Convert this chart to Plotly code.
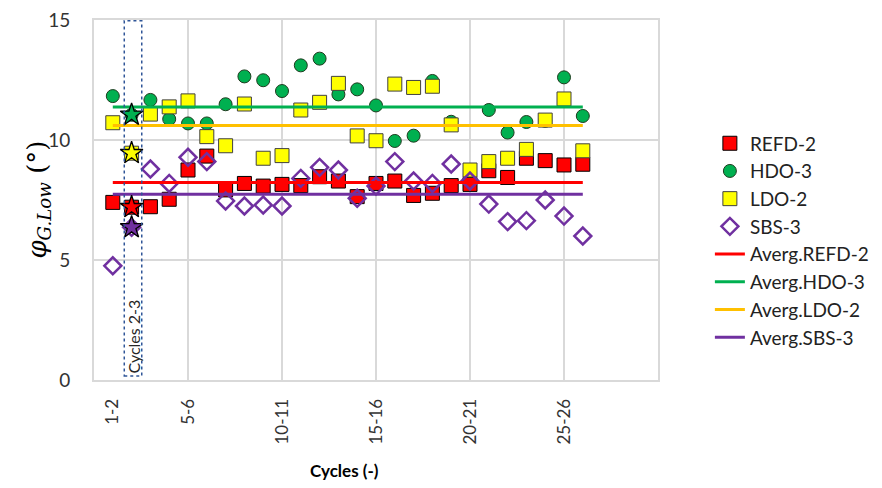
import numpy as np
import plotly.graph_objects as go

# Cycle index (1 = cycles 1-2, 2 = cycles 2-3, ...)
cycles = list(range(1, 27))

refd2 = [7.40, 7.20, 7.22, 7.53, 8.75, 9.33, 7.92, 8.19, 8.08, 8.15, 8.10, 8.47, 8.29,
         7.64, 8.19, 8.29, 7.69, 7.78, 8.10, 8.15, 8.72, 8.44, 9.24, 9.14, 8.96, 8.99]
hdo3 = [11.83, 11.05, 11.67, 10.87, 10.69, 10.69, 11.49, 12.65, 12.49, 12.04, 13.11, 13.39, 11.90,
        12.11, 11.44, 9.96, 10.18, 12.46, 10.76, 8.28, 11.25, 10.31, 10.75, 10.80, 12.61, 11.00]
ldo2 = [10.72, 9.45, 11.08, 11.38, 11.63, 10.14, 9.76, 11.50, 9.24, 9.35, 11.25, 11.57, 12.36,
        10.17, 9.97, 12.33, 12.19, 12.24, 10.63, 8.75, 9.10, 9.24, 9.61, 10.83, 11.71, 9.55]
sbs3 = [4.76, 6.36, 8.79, 8.19, 9.28, 9.10, 7.46, 7.25, 7.29, 7.25, 8.40, 8.86, 8.75,
        7.57, 8.08, 9.10, 8.29, 8.19, 9.00, 8.29, 7.33, 6.60, 6.64, 7.50, 6.83, 6.00]

tick_vals = [1, 5, 10, 15, 20, 25]
tick_text = ["1-2", "5-6", "10-11", "15-16", "20-21", "25-26"]
grid_x = [5, 10, 15, 20, 25]
highlight_cycle = 2  # cycles 2-3

RED, GREEN, YELLOW, PURPLE, ORANGE = "#FF0000", "#00B050", "#FFFF00", "#7030A0", "#FFC000"
FONT = "Lato, 'Open Sans', sans-serif"

fig = go.Figure()

# Scatter series (green drawn first so the others sit on top of it)
fig.add_trace(go.Scatter(x=cycles, y=hdo3, mode="markers", name="HDO-3", legendrank=2,
                         legendgroup="g2",
                         marker=dict(symbol="circle", size=13, color=GREEN,
                                     line=dict(color="#1F3B1F", width=1))))
fig.add_trace(go.Scatter(x=cycles, y=refd2, mode="markers", name="REFD-2", legendrank=1,
                         legendgroup="g1",
                         marker=dict(symbol="square", size=14, color=RED,
                                     line=dict(color="#000000", width=1))))
fig.add_trace(go.Scatter(x=cycles, y=ldo2, mode="markers", name="LDO-2", legendrank=3,
                         legendgroup="g3",
                         marker=dict(symbol="square", size=14, color=YELLOW,
                                     line=dict(color="#404040", width=1))))
fig.add_trace(go.Scatter(x=cycles, y=sbs3, mode="markers", name="SBS-3", legendrank=4,
                         legendgroup="g4",
                         marker=dict(symbol="diamond-open", size=13, color=PURPLE,
                                     line=dict(color=PURPLE, width=2.5))))

# Average lines
for rank, (label, vals, col) in enumerate([("Averg.REFD-2", refd2, RED),
                                           ("Averg.HDO-3", hdo3, GREEN),
                                           ("Averg.LDO-2", ldo2, ORANGE),
                                           ("Averg.SBS-3", sbs3, PURPLE)], start=5):
    m = float(np.mean(vals))
    fig.add_trace(go.Scatter(x=[cycles[0], cycles[-1]], y=[m, m], mode="lines", name=label,
                             legendrank=rank, legendgroup=f"g{rank}",
                             line=dict(color=col, width=3)))

# Stars highlighting cycles 2-3
i2 = cycles.index(highlight_cycle)
for vals, col in [(refd2, RED), (hdo3, GREEN), (ldo2, YELLOW), (sbs3, PURPLE)]:
    fig.add_trace(go.Scatter(x=[highlight_cycle], y=[vals[i2]], mode="markers", showlegend=False,
                             marker=dict(symbol="star", size=17, color=col,
                                         line=dict(color="#000000", width=1.3))))

# Vertical gridlines
for gx in grid_x:
    fig.add_shape(type="line", x0=gx, x1=gx, y0=0, y1=15, xref="x", yref="y",
                  line=dict(color="#D9D9D9", width=2), layer="below")

# Dotted box around cycles 2-3
fig.add_shape(type="rect", x0=highlight_cycle - 0.39, x1=highlight_cycle + 0.54, y0=0.17, y1=14.97,
              xref="x", yref="y", line=dict(color="#2F5597", width=1.5, dash="dot"),
              fillcolor="rgba(0,0,0,0)")
fig.add_annotation(x=highlight_cycle + 0.09, y=0.2, xref="x", yref="y", text="Cycles 2-3",
                   textangle=-90, showarrow=False, yanchor="bottom", xanchor="center",
                   font=dict(family=FONT, size=16, color="#262626"))

# Axis titles
fig.add_annotation(x=-0.1, y=0.5, xref="paper", yref="paper", showarrow=False, textangle=-90,
                   xanchor="center", yanchor="middle",
                   text="<i>φ</i><sub><i>G.Low</i></sub> (°)",
                   font=dict(family="'DejaVu Serif', 'Liberation Serif', serif", size=26, color="#000000"))
fig.add_annotation(x=0.445, y=-0.25, xref="paper", yref="paper", showarrow=False,
                   text="<b>Cycles (-)</b>", yanchor="middle",
                   font=dict(family=FONT, size=17, color="#000000"))

fig.update_layout(
    width=882, height=488,
    margin=dict(l=94, r=224, t=20, b=108, autoexpand=False),
    paper_bgcolor="white", plot_bgcolor="white",
    font=dict(family=FONT, color="#333333"),
    showlegend=True,
    legend=dict(x=1.092, y=0.71, xanchor="left", yanchor="top",
                font=dict(family=FONT, size=19, color="#222222"),
                bgcolor="rgba(0,0,0,0)", tracegroupgap=7.5, traceorder="normal"),
    xaxis=dict(range=[0, 30], tickvals=tick_vals, ticktext=tick_text, tickangle=-90,
               showgrid=False, zeroline=False, showline=True, mirror=True,
               linecolor="#D9D9D9", linewidth=2, ticks="", ticklabelstandoff=10,
               tickfont=dict(family=FONT, size=17, color="#333333")),
    yaxis=dict(range=[0, 15], dtick=5, tick0=0, showgrid=True, gridcolor="#D9D9D9", gridwidth=2,
               zeroline=False, showline=True, mirror=True, linecolor="#D9D9D9", linewidth=2,
               ticks="", ticklabelstandoff=18,
               tickfont=dict(family=FONT, size=19, color="#333333")),
)

fig.write_html("out.html")
